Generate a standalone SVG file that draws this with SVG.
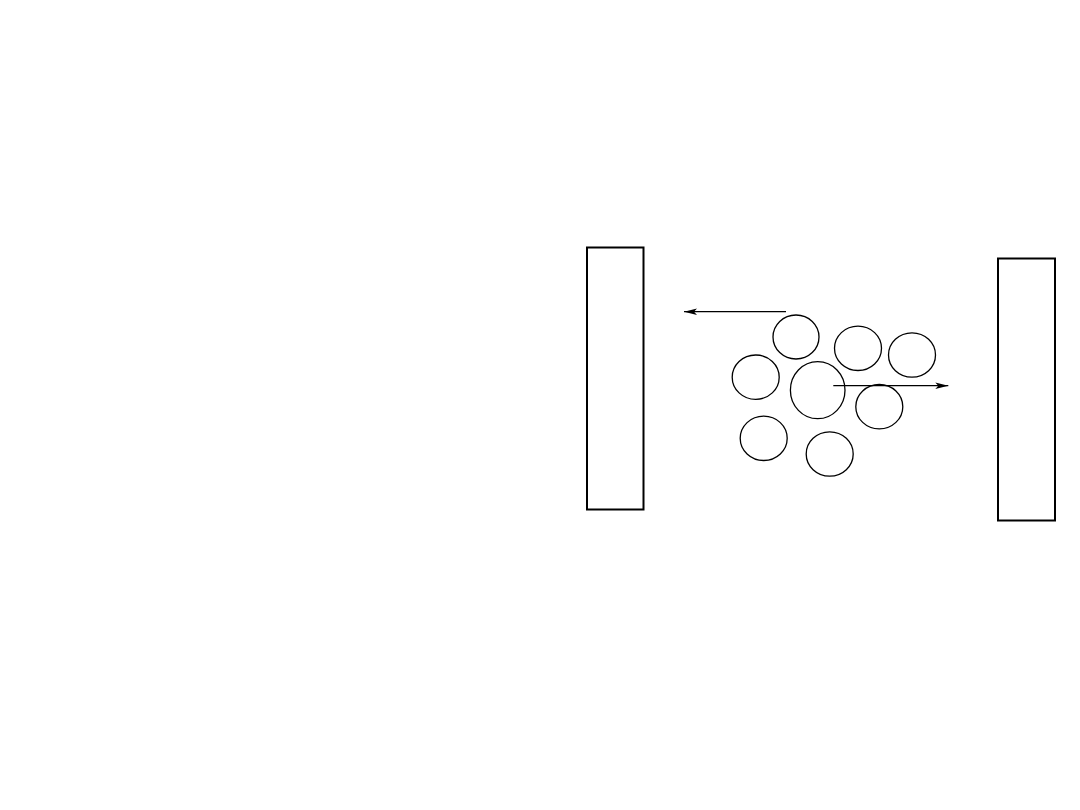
<svg xmlns="http://www.w3.org/2000/svg" width="1080" height="810" viewBox="0 0 1080 810">
<style>
.wall{fill:none;stroke:#000;stroke-width:2}
.p{fill:none;stroke:#000;stroke-width:1.3}
.c{fill:none;stroke:#000;stroke-width:1.3}
</style>
<defs>
<marker id="ah" markerWidth="14" markerHeight="8" refX="13" refY="4" orient="auto" markerUnits="userSpaceOnUse">
<path d="M0,0.8 L13,4 L0,7.2 L3,4 Z" fill="#000"/>
</marker>
</defs>
<rect width="1080" height="810" fill="#fff"/>
<g id="wall-left"><rect class="wall" x="587" y="247.5" width="56.5" height="262"/></g>
<g id="wall-right"><rect class="wall" x="998" y="258.5" width="57" height="262"/></g>
<g id="p1"><ellipse class="p" cx="796" cy="337" rx="23" ry="22"/></g>
<g id="p2"><ellipse class="p" cx="858" cy="348.3" rx="23.5" ry="22.2"/></g>
<g id="p3"><ellipse class="p" cx="912" cy="355" rx="23.5" ry="22.2"/></g>
<g id="p4"><ellipse class="p" cx="755.7" cy="377.2" rx="23.5" ry="22.2"/></g>
<g id="p5"><ellipse class="p" cx="817.7" cy="390.2" rx="27.3" ry="28.5"/></g>
<g id="p6"><ellipse class="p" cx="879.3" cy="406.7" rx="23.5" ry="22.2"/></g>
<g id="p7"><ellipse class="p" cx="763.7" cy="438.3" rx="23.5" ry="22.2"/></g>
<g id="p8"><ellipse class="p" cx="829.7" cy="454" rx="23.5" ry="22.2"/></g>
<g id="connectors">
<line class="c" x1="786" y1="311.7" x2="684" y2="311.7" marker-end="url(#ah)"/>
<line class="c" x1="833.3" y1="385.7" x2="948.3" y2="385.7" marker-end="url(#ah)"/>
</g>
</svg>
